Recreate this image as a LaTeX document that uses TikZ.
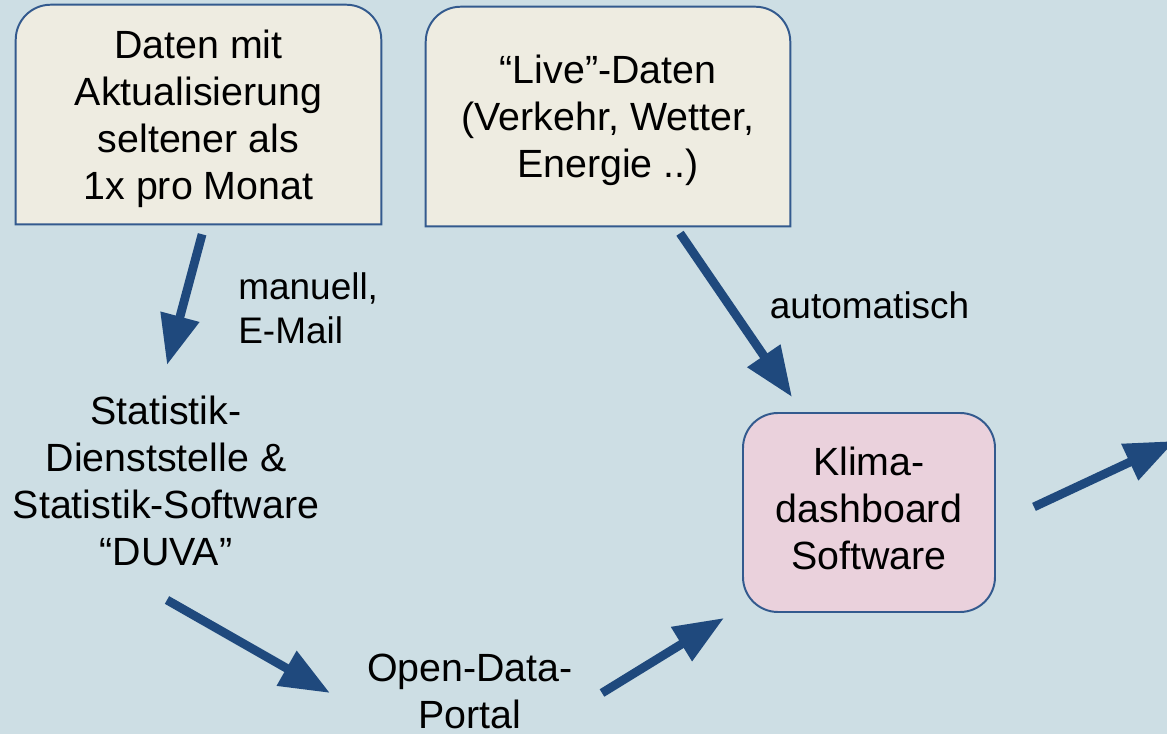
\documentclass[tikz,border=0pt]{standalone}
\usepackage{fontspec}
\setmainfont{Liberation Sans}
\usetikzlibrary{positioning, arrows.meta}
\definecolor{pageCol}{HTML}{CDDEE4}
\definecolor{sourceCol}{HTML}{EEECE1}
\definecolor{klimaCol}{HTML}{EAD1DC}
\definecolor{edgeCol}{HTML}{335A8E}
\definecolor{flowCol}{HTML}{1F497D}
\pgfdeclarelayer{back}
\pgfsetlayers{back,main}

\begin{document}
\begin{tikzpicture}[
    % Node styles
    sourcebox/.style={
        rectangle,
        inner sep=0pt,
        minimum height=5.475cm
    },
    tabline/.style={
        draw=edgeCol,
        fill=sourceCol,
        line width=1.4pt
    },
    klimabox/.style={
        rectangle,
        rounded corners=0.875cm,
        draw=edgeCol,
        fill=klimaCol,
        line width=1.4pt,
        minimum width=6.3cm,
        minimum height=4.975cm
    },
    plain/.style={
        inner sep=0pt,
        font=\fontsize{28}{33.4}\selectfont,
        align=center
    },
    flowlabel/.style={
        inner sep=0pt,
        font=\fontsize{26.3}{31.3}\selectfont,
        align=left
    },
    flow/.style={
        -{Triangle[length=1.25cm, width=0.95cm]},
        line width=0.22cm,
        draw=flowCol,
        fill=flowCol
    }
]

    \useasboundingbox (0,0) rectangle (29.175,18.35);
    \clip (0,0) rectangle (29.175,18.35);

    % ==== DATA SOURCES ====
    \node[sourcebox, minimum width=9.125cm] (daten) at (4.9625,15.4875) {};
    \node[plain] (datentext) at ([yshift=-0.1cm]daten.center) {Daten mit\\Aktualisierung\\seltener als\\1x pro Monat};
    \node[sourcebox, minimum width=9.1cm] (live) at (15.2,15.4375) {};
    \node[plain] (livetext) at ([yshift=-0.1cm]live.center) {“Live”-Daten\\(Verkehr, Wetter,\\Energie ..)};

    % ==== PROCESSING ====
    \node[plain] (stat) at (4.15,6.325) {Statistik-\\Dienststelle \&\\Statistik-Software\\“DUVA”};
    \node[plain] (portal) at (11.75,1.07) {Open-Data-\\Portal};
    \node[klimabox] (klima) at (21.725,5.5375) {};
    \node[plain] (klimatext) at ([yshift=0.1cm]klima.center) {Klima-\\dashboard\\Software};

    % ==== LABELS ====
    \node[flowlabel, anchor=west] (mail) at (5.95,10.65) {manuell,\\E-Mail};
    \node[flowlabel] (auto) at (21.74,10.725) {automatisch};

    % Canvas and tab-shaped source boxes behind the text
    \begin{pgfonlayer}{back}
        \fill[pageCol] (0,0) rectangle (29.175,18.35);
        \draw[tabline] (daten.south west) -- ([yshift=-0.875cm]daten.north west)
            arc[start angle=180, end angle=90, radius=0.875cm]
            -- ([xshift=-0.875cm]daten.north east)
            arc[start angle=90, end angle=0, radius=0.875cm]
            -- (daten.south east) -- cycle;
        \draw[tabline] (live.south west) -- ([yshift=-0.875cm]live.north west)
            arc[start angle=180, end angle=90, radius=0.875cm]
            -- ([xshift=-0.875cm]live.north east)
            arc[start angle=90, end angle=0, radius=0.875cm]
            -- (live.south east) -- cycle;
    \end{pgfonlayer}

    % ==== ARROWS ====
    \coordinate (exit) at (29.375,7.325);
    \draw[flow] ([shift={(0.09,-0.25)}]daten.south) -- ([shift={(0.025,2.9)}]stat.center);
    \draw[flow] ([shift={(1.8,-0.175)}]live.south) -- ([shift={(-1.925,0.375)}]klima.north);
    \draw[flow] ([shift={(0.025,-2.975)}]stat.center) -- ([shift={(-3.5,-0.045)}]portal.center);
    \draw[flow] ([shift={(3.3,-0.045)}]portal.center) -- ([shift={(-0.45,-0.125)}]klima.south west);
    \draw[flow] ([shift={(0.95,0.14)}]klima.east) -- (exit);

\end{tikzpicture}
\end{document}
